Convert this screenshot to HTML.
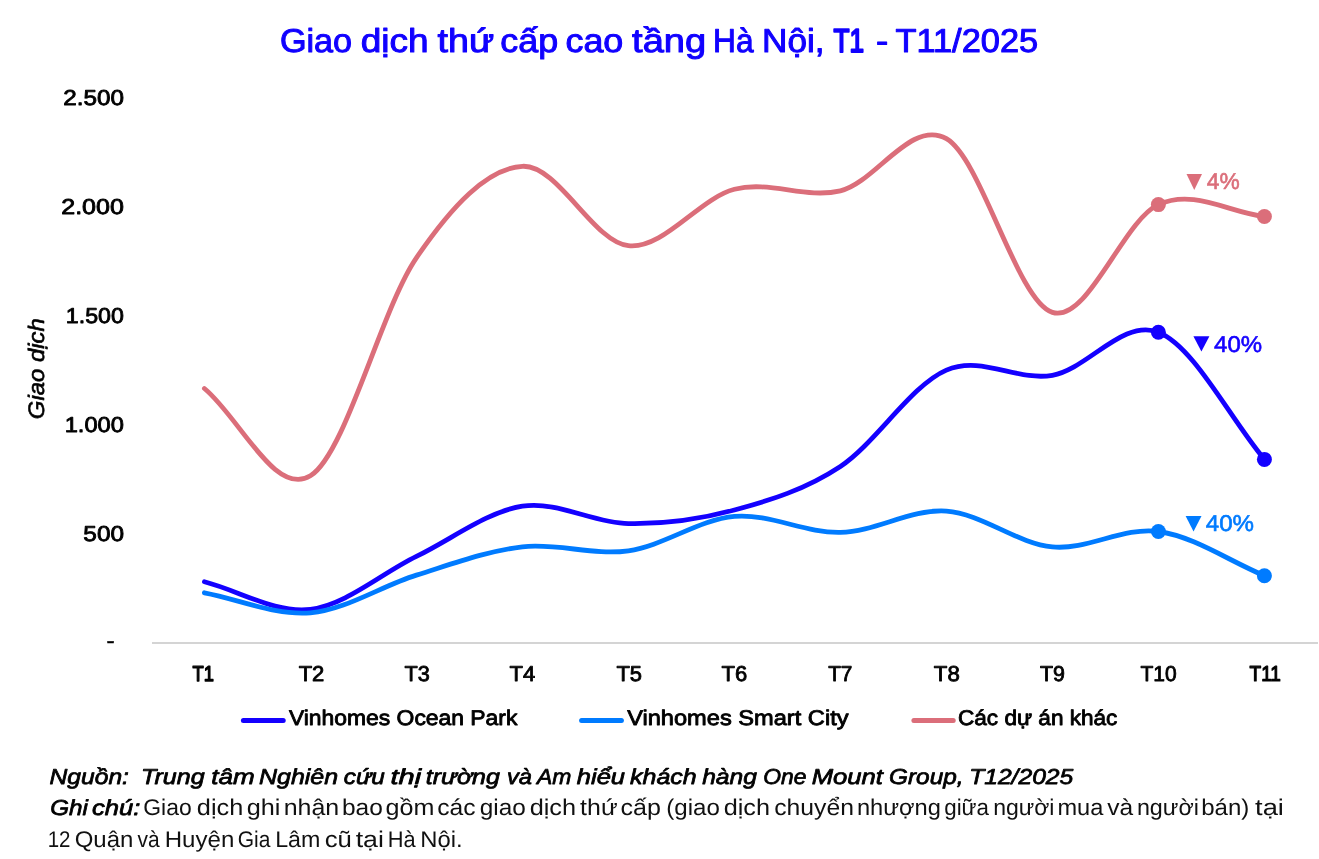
<!DOCTYPE html>
<html lang="vi"><head><meta charset="utf-8"><title>Giao dịch thứ cấp cao tầng Hà Nội</title>
<style>html,body{margin:0;padding:0;background:#fff;width:1319px;height:859px;overflow:hidden}svg{display:block;will-change:transform;text-rendering:geometricPrecision}</style>
</head><body>
<svg width="1319" height="859" viewBox="0 0 1319 859">
<rect x="152" y="642" width="1166" height="2" fill="#D4D4D4"/>
<path d="M204.40,581.80 C239.73,590.97 275.07,613.53 310.40,609.30 C345.73,605.07 381.07,573.58 416.40,556.40 C451.73,539.22 487.07,511.67 522.40,506.20 C557.73,500.73 593.07,522.97 628.40,523.60 C663.73,524.23 699.07,519.53 734.40,510.00 C769.73,500.47 805.07,489.72 840.40,466.40 C875.73,443.08 911.07,385.28 946.40,370.10 C981.73,354.92 1017.07,381.62 1052.40,375.30 C1087.73,368.98 1123.07,318.18 1158.40,332.20 C1193.73,346.22 1229.07,417.00 1264.40,459.40" fill="none" stroke="#1400FF" stroke-width="4.80" stroke-linecap="round" stroke-linejoin="round"/>
<circle cx="1158.40" cy="332.20" r="7.5" fill="#1400FF"/>
<circle cx="1264.40" cy="459.40" r="7.5" fill="#1400FF"/>
<path d="M204.40,592.80 C239.73,599.47 275.07,615.75 310.40,612.80 C345.73,609.85 381.07,586.10 416.40,575.10 C451.73,564.10 487.07,550.85 522.40,546.80 C557.73,542.75 593.07,555.87 628.40,550.80 C663.73,545.73 699.07,519.47 734.40,516.40 C769.73,513.33 805.07,533.28 840.40,532.40 C875.73,531.52 911.07,508.68 946.40,511.10 C981.73,513.52 1017.07,543.50 1052.40,546.90 C1087.73,550.30 1123.07,526.70 1158.40,531.50 C1193.73,536.30 1229.07,560.97 1264.40,575.70" fill="none" stroke="#007BFF" stroke-width="4.80" stroke-linecap="round" stroke-linejoin="round"/>
<circle cx="1158.40" cy="531.50" r="7.5" fill="#007BFF"/>
<circle cx="1264.40" cy="575.70" r="7.5" fill="#007BFF"/>
<path d="M204.40,388.50 C239.73,417.60 275.07,497.58 310.40,475.80 C345.73,454.02 381.07,309.38 416.40,257.80 C451.73,206.22 487.07,168.32 522.40,166.30 C557.73,164.28 593.07,241.87 628.40,245.70 C663.73,249.53 699.07,198.45 734.40,189.30 C769.73,180.15 805.07,199.23 840.40,190.80 C875.73,182.37 911.07,118.43 946.40,138.70 C981.73,158.97 1017.07,301.42 1052.40,312.40 C1087.73,323.38 1123.07,220.58 1158.40,204.60 C1193.73,188.62 1229.07,212.53 1264.40,216.50" fill="none" stroke="#DB6E7A" stroke-width="4.80" stroke-linecap="round" stroke-linejoin="round"/>
<circle cx="1158.40" cy="204.60" r="7.5" fill="#DB6E7A"/>
<circle cx="1264.40" cy="216.50" r="7.5" fill="#DB6E7A"/>
<polygon points="1186.50,174.10 1202.00,174.10 1194.25,189.90" fill="#DB6E7A"/>
<polygon points="1193.40,336.30 1209.40,336.30 1201.40,351.50" fill="#1400FF"/>
<polygon points="1185.60,516.00 1201.50,516.00 1193.55,531.40" fill="#007BFF"/>
<line x1="243.40" y1="720.5" x2="283.20" y2="720.5" stroke="#1400FF" stroke-width="5" stroke-linecap="round"/>
<line x1="581.60" y1="720.5" x2="621.40" y2="720.5" stroke="#007BFF" stroke-width="5" stroke-linecap="round"/>
<line x1="913.90" y1="720.5" x2="953.20" y2="720.5" stroke="#DB6E7A" stroke-width="5" stroke-linecap="round"/>
<text transform="translate(279.91,51.60) scale(1.0319,1)" x="0" y="0" style="font-family:'Liberation Sans', 'DejaVu Sans', sans-serif;font-size:33.14px;font-weight:normal;font-style:normal;fill:#1000FF;stroke:#1000FF;stroke-width:1.00px;stroke-linejoin:round">Giao</text>
<text transform="translate(360.67,51.60) scale(1.1176,1)" x="0" y="0" style="font-family:'Liberation Sans', 'DejaVu Sans', sans-serif;font-size:33.14px;font-weight:normal;font-style:normal;fill:#1000FF;stroke:#1000FF;stroke-width:1.00px;stroke-linejoin:round">dịch</text>
<text transform="translate(437.60,51.60) scale(1.1356,1)" x="0" y="0" style="font-family:'Liberation Sans', 'DejaVu Sans', sans-serif;font-size:33.14px;font-weight:normal;font-style:normal;fill:#1000FF;stroke:#1000FF;stroke-width:1.00px;stroke-linejoin:round">thứ</text>
<text transform="translate(500.28,51.60) scale(1.0826,1)" x="0" y="0" style="font-family:'Liberation Sans', 'DejaVu Sans', sans-serif;font-size:33.14px;font-weight:normal;font-style:normal;fill:#1000FF;stroke:#1000FF;stroke-width:1.00px;stroke-linejoin:round">cấp</text>
<text transform="translate(565.48,51.60) scale(1.0829,1)" x="0" y="0" style="font-family:'Liberation Sans', 'DejaVu Sans', sans-serif;font-size:33.14px;font-weight:normal;font-style:normal;fill:#1000FF;stroke:#1000FF;stroke-width:1.00px;stroke-linejoin:round">cao</text>
<text transform="translate(632.10,51.60) scale(1.1489,1)" x="0" y="0" style="font-family:'Liberation Sans', 'DejaVu Sans', sans-serif;font-size:33.14px;font-weight:normal;font-style:normal;fill:#1000FF;stroke:#1000FF;stroke-width:1.00px;stroke-linejoin:round">tầng</text>
<text transform="translate(713.12,51.60) scale(0.9565,1)" x="0" y="0" style="font-family:'Liberation Sans', 'DejaVu Sans', sans-serif;font-size:33.14px;font-weight:normal;font-style:normal;fill:#1000FF;stroke:#1000FF;stroke-width:1.00px;stroke-linejoin:round">Hà</text>
<text transform="translate(762.10,51.60) scale(1.0607,1)" x="0" y="0" style="font-family:'Liberation Sans', 'DejaVu Sans', sans-serif;font-size:33.14px;font-weight:normal;font-style:normal;fill:#1000FF;stroke:#1000FF;stroke-width:1.00px;stroke-linejoin:round">Nội,</text>
<text transform="translate(833.61,51.60) scale(0.7900,1)" x="0" y="0" style="font-family:'Liberation Sans', 'DejaVu Sans', sans-serif;font-size:33.14px;font-weight:normal;font-style:normal;fill:#1000FF;stroke:#1000FF;stroke-width:2.07px;stroke-linejoin:round">T1</text>
<text transform="translate(876.02,51.60) scale(1.1106,1)" x="0" y="0" style="font-family:'Liberation Sans', 'DejaVu Sans', sans-serif;font-size:33.14px;font-weight:normal;font-style:normal;fill:#1000FF;stroke:#1000FF;stroke-width:1.00px;stroke-linejoin:round">-</text>
<text transform="translate(895.39,51.60) scale(1.0384,1)" x="0" y="0" style="font-family:'Liberation Sans', 'DejaVu Sans', sans-serif;font-size:33.14px;font-weight:normal;font-style:normal;fill:#1000FF;stroke:#1000FF;stroke-width:1.00px;stroke-linejoin:round">T11/2025</text>
<text transform="translate(63.26,104.58) scale(1.1305,1)" x="0" y="0" style="font-family:'Liberation Sans', 'DejaVu Sans', sans-serif;font-size:21.44px;font-weight:normal;font-style:normal;fill:#000000;stroke:#000000;stroke-width:0.85px;stroke-linejoin:round">2.500</text>
<text transform="translate(61.23,213.57) scale(1.1685,1)" x="0" y="0" style="font-family:'Liberation Sans', 'DejaVu Sans', sans-serif;font-size:21.44px;font-weight:normal;font-style:normal;fill:#000000;stroke:#000000;stroke-width:0.85px;stroke-linejoin:round">2.000</text>
<text transform="translate(65.85,322.57) scale(1.0816,1)" x="0" y="0" style="font-family:'Liberation Sans', 'DejaVu Sans', sans-serif;font-size:21.44px;font-weight:normal;font-style:normal;fill:#000000;stroke:#000000;stroke-width:0.85px;stroke-linejoin:round">1.500</text>
<text transform="translate(64.63,431.57) scale(1.1047,1)" x="0" y="0" style="font-family:'Liberation Sans', 'DejaVu Sans', sans-serif;font-size:21.44px;font-weight:normal;font-style:normal;fill:#000000;stroke:#000000;stroke-width:0.85px;stroke-linejoin:round">1.000</text>
<text transform="translate(83.37,540.58) scale(1.1371,1)" x="0" y="0" style="font-family:'Liberation Sans', 'DejaVu Sans', sans-serif;font-size:21.44px;font-weight:normal;font-style:normal;fill:#000000;stroke:#000000;stroke-width:0.85px;stroke-linejoin:round">500</text>
<text transform="translate(106.60,648.05) scale(1.1102,1)" x="0" y="0" style="font-family:'Liberation Sans', 'DejaVu Sans', sans-serif;font-size:21.95px;font-weight:normal;font-style:normal;fill:#000000;stroke:#000000;stroke-width:0.50px;stroke-linejoin:round">-</text>
<text transform="translate(192.55,681.48) scale(0.8500,1)" x="0" y="0" style="font-family:'Liberation Sans', 'DejaVu Sans', sans-serif;font-size:21.58px;font-weight:normal;font-style:normal;fill:#000000;stroke:#000000;stroke-width:1.35px;stroke-linejoin:round">T1</text>
<text transform="translate(298.63,681.48) scale(1.0211,1)" x="0" y="0" style="font-family:'Liberation Sans', 'DejaVu Sans', sans-serif;font-size:21.58px;font-weight:normal;font-style:normal;fill:#000000;stroke:#000000;stroke-width:0.85px;stroke-linejoin:round">T2</text>
<text transform="translate(404.43,681.48) scale(1.0034,1)" x="0" y="0" style="font-family:'Liberation Sans', 'DejaVu Sans', sans-serif;font-size:21.58px;font-weight:normal;font-style:normal;fill:#000000;stroke:#000000;stroke-width:0.85px;stroke-linejoin:round">T3</text>
<text transform="translate(509.53,681.48) scale(1.0174,1)" x="0" y="0" style="font-family:'Liberation Sans', 'DejaVu Sans', sans-serif;font-size:21.58px;font-weight:normal;font-style:normal;fill:#000000;stroke:#000000;stroke-width:0.85px;stroke-linejoin:round">T4</text>
<text transform="translate(616.43,681.48) scale(1.0161,1)" x="0" y="0" style="font-family:'Liberation Sans', 'DejaVu Sans', sans-serif;font-size:21.58px;font-weight:normal;font-style:normal;fill:#000000;stroke:#000000;stroke-width:0.85px;stroke-linejoin:round">T5</text>
<text transform="translate(721.53,681.48) scale(1.0179,1)" x="0" y="0" style="font-family:'Liberation Sans', 'DejaVu Sans', sans-serif;font-size:21.58px;font-weight:normal;font-style:normal;fill:#000000;stroke:#000000;stroke-width:0.85px;stroke-linejoin:round">T6</text>
<text transform="translate(828.13,681.48) scale(0.9609,1)" x="0" y="0" style="font-family:'Liberation Sans', 'DejaVu Sans', sans-serif;font-size:21.58px;font-weight:normal;font-style:normal;fill:#000000;stroke:#000000;stroke-width:0.85px;stroke-linejoin:round">T7</text>
<text transform="translate(933.83,681.48) scale(1.0297,1)" x="0" y="0" style="font-family:'Liberation Sans', 'DejaVu Sans', sans-serif;font-size:21.58px;font-weight:normal;font-style:normal;fill:#000000;stroke:#000000;stroke-width:0.85px;stroke-linejoin:round">T8</text>
<text transform="translate(1039.93,681.48) scale(0.9916,1)" x="0" y="0" style="font-family:'Liberation Sans', 'DejaVu Sans', sans-serif;font-size:21.58px;font-weight:normal;font-style:normal;fill:#000000;stroke:#000000;stroke-width:0.85px;stroke-linejoin:round">T9</text>
<text transform="translate(1140.43,681.48) scale(0.9732,1)" x="0" y="0" style="font-family:'Liberation Sans', 'DejaVu Sans', sans-serif;font-size:21.58px;font-weight:normal;font-style:normal;fill:#000000;stroke:#000000;stroke-width:0.85px;stroke-linejoin:round">T10</text>
<text transform="translate(1249.53,681.48) scale(0.8800,1)" x="0" y="0" style="font-family:'Liberation Sans', 'DejaVu Sans', sans-serif;font-size:21.58px;font-weight:normal;font-style:normal;fill:#000000;stroke:#000000;stroke-width:1.23px;stroke-linejoin:round">T11</text>
<text transform="translate(288.94,725.28) scale(1.0748,1)" x="0" y="0" style="font-family:'Liberation Sans', 'DejaVu Sans', sans-serif;font-size:21.29px;font-weight:normal;font-style:normal;fill:#000000;stroke:#000000;stroke-width:0.85px;stroke-linejoin:round">Vinhomes Ocean Park</text>
<text transform="translate(627.15,725.28) scale(1.1097,1)" x="0" y="0" style="font-family:'Liberation Sans', 'DejaVu Sans', sans-serif;font-size:21.29px;font-weight:normal;font-style:normal;fill:#000000;stroke:#000000;stroke-width:0.85px;stroke-linejoin:round">Vinhomes Smart City</text>
<text transform="translate(957.97,725.28) scale(1.0608,1)" x="0" y="0" style="font-family:'Liberation Sans', 'DejaVu Sans', sans-serif;font-size:21.29px;font-weight:normal;font-style:normal;fill:#000000;stroke:#000000;stroke-width:0.85px;stroke-linejoin:round">Các dự án khác</text>
<text transform="translate(49.55,783.62) scale(1.1407,1)" x="0" y="0" style="font-family:'Liberation Sans', 'DejaVu Sans', sans-serif;font-size:21.58px;font-weight:normal;font-style:italic;fill:#000000;stroke:#000000;stroke-width:0.75px;stroke-linejoin:round">Nguồn:</text>
<text transform="translate(141.01,783.62) scale(1.1623,1)" x="0" y="0" style="font-family:'Liberation Sans', 'DejaVu Sans', sans-serif;font-size:21.58px;font-weight:normal;font-style:italic;fill:#000000;stroke:#000000;stroke-width:0.75px;stroke-linejoin:round">Trung</text>
<text transform="translate(211.21,783.62) scale(1.2066,1)" x="0" y="0" style="font-family:'Liberation Sans', 'DejaVu Sans', sans-serif;font-size:21.58px;font-weight:normal;font-style:italic;fill:#000000;stroke:#000000;stroke-width:0.75px;stroke-linejoin:round">tâm</text>
<text transform="translate(258.95,783.62) scale(1.1577,1)" x="0" y="0" style="font-family:'Liberation Sans', 'DejaVu Sans', sans-serif;font-size:21.58px;font-weight:normal;font-style:italic;fill:#000000;stroke:#000000;stroke-width:0.75px;stroke-linejoin:round">Nghiên</text>
<text transform="translate(343.78,783.62) scale(1.1279,1)" x="0" y="0" style="font-family:'Liberation Sans', 'DejaVu Sans', sans-serif;font-size:21.58px;font-weight:normal;font-style:italic;fill:#000000;stroke:#000000;stroke-width:0.75px;stroke-linejoin:round">cứu</text>
<text transform="translate(390.51,783.62) scale(1.3455,1)" x="0" y="0" style="font-family:'Liberation Sans', 'DejaVu Sans', sans-serif;font-size:21.58px;font-weight:normal;font-style:italic;fill:#000000;stroke:#000000;stroke-width:0.75px;stroke-linejoin:round">thị</text>
<text transform="translate(425.84,783.62) scale(1.1572,1)" x="0" y="0" style="font-family:'Liberation Sans', 'DejaVu Sans', sans-serif;font-size:21.58px;font-weight:normal;font-style:italic;fill:#000000;stroke:#000000;stroke-width:0.75px;stroke-linejoin:round">trường</text>
<text transform="translate(506.99,783.62) scale(1.0967,1)" x="0" y="0" style="font-family:'Liberation Sans', 'DejaVu Sans', sans-serif;font-size:21.58px;font-weight:normal;font-style:italic;fill:#000000;stroke:#000000;stroke-width:0.75px;stroke-linejoin:round">và</text>
<text transform="translate(536.99,783.62) scale(1.0615,1)" x="0" y="0" style="font-family:'Liberation Sans', 'DejaVu Sans', sans-serif;font-size:21.58px;font-weight:normal;font-style:italic;fill:#000000;stroke:#000000;stroke-width:0.75px;stroke-linejoin:round">Am</text>
<text transform="translate(576.78,783.62) scale(1.1835,1)" x="0" y="0" style="font-family:'Liberation Sans', 'DejaVu Sans', sans-serif;font-size:21.58px;font-weight:normal;font-style:italic;fill:#000000;stroke:#000000;stroke-width:0.75px;stroke-linejoin:round">hiểu</text>
<text transform="translate(630.08,783.62) scale(1.1541,1)" x="0" y="0" style="font-family:'Liberation Sans', 'DejaVu Sans', sans-serif;font-size:21.58px;font-weight:normal;font-style:italic;fill:#000000;stroke:#000000;stroke-width:0.75px;stroke-linejoin:round">khách</text>
<text transform="translate(702.18,783.62) scale(1.1379,1)" x="0" y="0" style="font-family:'Liberation Sans', 'DejaVu Sans', sans-serif;font-size:21.58px;font-weight:normal;font-style:italic;fill:#000000;stroke:#000000;stroke-width:0.75px;stroke-linejoin:round">hàng</text>
<text transform="translate(763.23,783.62) scale(1.0590,1)" x="0" y="0" style="font-family:'Liberation Sans', 'DejaVu Sans', sans-serif;font-size:21.58px;font-weight:normal;font-style:italic;fill:#000000;stroke:#000000;stroke-width:0.75px;stroke-linejoin:round">One</text>
<text transform="translate(811.64,783.62) scale(1.1886,1)" x="0" y="0" style="font-family:'Liberation Sans', 'DejaVu Sans', sans-serif;font-size:21.58px;font-weight:normal;font-style:italic;fill:#000000;stroke:#000000;stroke-width:0.75px;stroke-linejoin:round">Mount</text>
<text transform="translate(889.05,783.62) scale(1.1293,1)" x="0" y="0" style="font-family:'Liberation Sans', 'DejaVu Sans', sans-serif;font-size:21.58px;font-weight:normal;font-style:italic;fill:#000000;stroke:#000000;stroke-width:0.75px;stroke-linejoin:round">Group,</text>
<text transform="translate(969.14,783.62) scale(1.1421,1)" x="0" y="0" style="font-family:'Liberation Sans', 'DejaVu Sans', sans-serif;font-size:21.58px;font-weight:normal;font-style:italic;fill:#000000;stroke:#000000;stroke-width:0.75px;stroke-linejoin:round">T12/2025</text>
<text transform="translate(50.26,814.92) scale(1.1201,1)" x="0" y="0" style="font-family:'Liberation Sans', 'DejaVu Sans', sans-serif;font-size:21.58px;font-weight:normal;font-style:italic;fill:#000000;stroke:#000000;stroke-width:0.75px;stroke-linejoin:round">Ghi</text>
<text transform="translate(91.96,814.92) scale(1.1870,1)" x="0" y="0" style="font-family:'Liberation Sans', 'DejaVu Sans', sans-serif;font-size:21.58px;font-weight:normal;font-style:italic;fill:#000000;stroke:#000000;stroke-width:0.75px;stroke-linejoin:round">chú:</text>
<text transform="translate(143.29,815.30) scale(1.0104,1)" x="0" y="0" style="font-family:'Liberation Sans', 'DejaVu Sans', sans-serif;font-size:22.67px;font-weight:normal;font-style:normal;fill:#111111">Giao</text>
<text transform="translate(196.87,815.30) scale(1.1171,1)" x="0" y="0" style="font-family:'Liberation Sans', 'DejaVu Sans', sans-serif;font-size:22.67px;font-weight:normal;font-style:normal;fill:#111111">dịch</text>
<text transform="translate(246.68,815.30) scale(1.1145,1)" x="0" y="0" style="font-family:'Liberation Sans', 'DejaVu Sans', sans-serif;font-size:22.67px;font-weight:normal;font-style:normal;fill:#111111">ghi</text>
<text transform="translate(283.70,815.30) scale(1.1013,1)" x="0" y="0" style="font-family:'Liberation Sans', 'DejaVu Sans', sans-serif;font-size:22.67px;font-weight:normal;font-style:normal;fill:#111111">nhận</text>
<text transform="translate(341.99,815.30) scale(1.0811,1)" x="0" y="0" style="font-family:'Liberation Sans', 'DejaVu Sans', sans-serif;font-size:22.67px;font-weight:normal;font-style:normal;fill:#111111">bao</text>
<text transform="translate(385.58,815.30) scale(1.1081,1)" x="0" y="0" style="font-family:'Liberation Sans', 'DejaVu Sans', sans-serif;font-size:22.67px;font-weight:normal;font-style:normal;fill:#111111">gồm</text>
<text transform="translate(437.19,815.30) scale(1.0880,1)" x="0" y="0" style="font-family:'Liberation Sans', 'DejaVu Sans', sans-serif;font-size:22.67px;font-weight:normal;font-style:normal;fill:#111111">các</text>
<text transform="translate(479.72,815.30) scale(1.0756,1)" x="0" y="0" style="font-family:'Liberation Sans', 'DejaVu Sans', sans-serif;font-size:22.67px;font-weight:normal;font-style:normal;fill:#111111">giao</text>
<text transform="translate(529.67,815.30) scale(1.1171,1)" x="0" y="0" style="font-family:'Liberation Sans', 'DejaVu Sans', sans-serif;font-size:22.67px;font-weight:normal;font-style:normal;fill:#111111">dịch</text>
<text transform="translate(580.10,815.30) scale(1.0996,1)" x="0" y="0" style="font-family:'Liberation Sans', 'DejaVu Sans', sans-serif;font-size:22.67px;font-weight:normal;font-style:normal;fill:#111111">thứ</text>
<text transform="translate(620.57,815.30) scale(1.1052,1)" x="0" y="0" style="font-family:'Liberation Sans', 'DejaVu Sans', sans-serif;font-size:22.67px;font-weight:normal;font-style:normal;fill:#111111">cấp</text>
<text transform="translate(666.27,815.30) scale(1.0627,1)" x="0" y="0" style="font-family:'Liberation Sans', 'DejaVu Sans', sans-serif;font-size:22.67px;font-weight:normal;font-style:normal;fill:#111111">(giao</text>
<text transform="translate(723.68,815.30) scale(1.1146,1)" x="0" y="0" style="font-family:'Liberation Sans', 'DejaVu Sans', sans-serif;font-size:22.67px;font-weight:normal;font-style:normal;fill:#111111">dịch</text>
<text transform="translate(774.18,815.30) scale(1.0908,1)" x="0" y="0" style="font-family:'Liberation Sans', 'DejaVu Sans', sans-serif;font-size:22.67px;font-weight:normal;font-style:normal;fill:#111111">chuyển</text>
<text transform="translate(856.89,815.30) scale(1.0441,1)" x="0" y="0" style="font-family:'Liberation Sans', 'DejaVu Sans', sans-serif;font-size:22.67px;font-weight:normal;font-style:normal;fill:#111111">nhượng</text>
<text transform="translate(944.21,815.30) scale(0.9857,1)" x="0" y="0" style="font-family:'Liberation Sans', 'DejaVu Sans', sans-serif;font-size:22.67px;font-weight:normal;font-style:normal;fill:#111111">giữa</text>
<text transform="translate(993.13,815.30) scale(1.0177,1)" x="0" y="0" style="font-family:'Liberation Sans', 'DejaVu Sans', sans-serif;font-size:22.67px;font-weight:normal;font-style:normal;fill:#111111">người</text>
<text transform="translate(1057.39,815.30) scale(1.0412,1)" x="0" y="0" style="font-family:'Liberation Sans', 'DejaVu Sans', sans-serif;font-size:22.67px;font-weight:normal;font-style:normal;fill:#111111">mua</text>
<text transform="translate(1107.20,815.30) scale(1.0830,1)" x="0" y="0" style="font-family:'Liberation Sans', 'DejaVu Sans', sans-serif;font-size:22.67px;font-weight:normal;font-style:normal;fill:#111111">và</text>
<text transform="translate(1136.91,815.30) scale(1.0282,1)" x="0" y="0" style="font-family:'Liberation Sans', 'DejaVu Sans', sans-serif;font-size:22.67px;font-weight:normal;font-style:normal;fill:#111111">người</text>
<text transform="translate(1201.22,815.30) scale(1.0601,1)" x="0" y="0" style="font-family:'Liberation Sans', 'DejaVu Sans', sans-serif;font-size:22.67px;font-weight:normal;font-style:normal;fill:#111111">bán)</text>
<text transform="translate(1255.06,815.30) scale(1.2065,1)" x="0" y="0" style="font-family:'Liberation Sans', 'DejaVu Sans', sans-serif;font-size:22.67px;font-weight:normal;font-style:normal;fill:#111111">tại</text>
<text transform="translate(47.64,846.70) scale(0.9046,1)" x="0" y="0" style="font-family:'Liberation Sans', 'DejaVu Sans', sans-serif;font-size:22.67px;font-weight:normal;font-style:normal;fill:#111111">12</text>
<text transform="translate(74.71,846.70) scale(1.0582,1)" x="0" y="0" style="font-family:'Liberation Sans', 'DejaVu Sans', sans-serif;font-size:22.67px;font-weight:normal;font-style:normal;fill:#111111">Quận</text>
<text transform="translate(137.54,846.70) scale(0.9259,1)" x="0" y="0" style="font-family:'Liberation Sans', 'DejaVu Sans', sans-serif;font-size:22.67px;font-weight:normal;font-style:normal;fill:#111111">và</text>
<text transform="translate(164.73,846.70) scale(1.0616,1)" x="0" y="0" style="font-family:'Liberation Sans', 'DejaVu Sans', sans-serif;font-size:22.67px;font-weight:normal;font-style:normal;fill:#111111">Huyện</text>
<text transform="translate(237.69,846.70) scale(0.9255,1)" x="0" y="0" style="font-family:'Liberation Sans', 'DejaVu Sans', sans-serif;font-size:22.67px;font-weight:normal;font-style:normal;fill:#111111">Gia</text>
<text transform="translate(275.19,846.70) scale(1.0257,1)" x="0" y="0" style="font-family:'Liberation Sans', 'DejaVu Sans', sans-serif;font-size:22.67px;font-weight:normal;font-style:normal;fill:#111111">Lâm</text>
<text transform="translate(324.64,846.70) scale(1.1373,1)" x="0" y="0" style="font-family:'Liberation Sans', 'DejaVu Sans', sans-serif;font-size:22.67px;font-weight:normal;font-style:normal;fill:#111111">cũ</text>
<text transform="translate(355.67,846.70) scale(1.1794,1)" x="0" y="0" style="font-family:'Liberation Sans', 'DejaVu Sans', sans-serif;font-size:22.67px;font-weight:normal;font-style:normal;fill:#111111">tại</text>
<text transform="translate(387.71,846.70) scale(0.9642,1)" x="0" y="0" style="font-family:'Liberation Sans', 'DejaVu Sans', sans-serif;font-size:22.67px;font-weight:normal;font-style:normal;fill:#111111">Hà</text>
<text transform="translate(420.25,846.70) scale(1.0507,1)" x="0" y="0" style="font-family:'Liberation Sans', 'DejaVu Sans', sans-serif;font-size:22.67px;font-weight:normal;font-style:normal;fill:#111111">Nội.</text>
<text transform="translate(1206.87,189.30) scale(0.9958,1)" x="0" y="0" style="font-family:'Liberation Sans', 'DejaVu Sans', sans-serif;font-size:22.82px;font-weight:normal;font-style:normal;fill:#DB6E7A;stroke:#DB6E7A;stroke-width:0.60px;stroke-linejoin:round">4%</text>
<text transform="translate(1214.06,351.60) scale(1.0508,1)" x="0" y="0" style="font-family:'Liberation Sans', 'DejaVu Sans', sans-serif;font-size:22.82px;font-weight:normal;font-style:normal;fill:#1400FF;stroke:#1400FF;stroke-width:0.60px;stroke-linejoin:round">40%</text>
<text transform="translate(1205.76,531.00) scale(1.0553,1)" x="0" y="0" style="font-family:'Liberation Sans', 'DejaVu Sans', sans-serif;font-size:22.82px;font-weight:normal;font-style:normal;fill:#007BFF;stroke:#007BFF;stroke-width:0.60px;stroke-linejoin:round">40%</text>
<text transform="translate(44.10,419.21) rotate(-90) scale(1.0680,1)" x="0" y="0" style="font-family:'Liberation Sans', 'DejaVu Sans', sans-serif;font-size:22.38px;font-weight:normal;font-style:italic;fill:#000000;stroke:#000000;stroke-width:0.60px;stroke-linejoin:round">Giao dịch</text>
</svg>
</body></html>
